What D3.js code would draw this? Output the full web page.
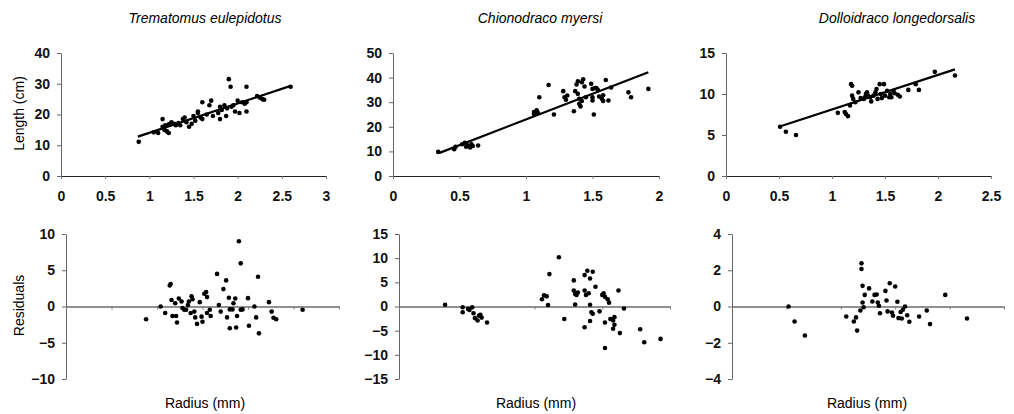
<!DOCTYPE html>
<html>
<head>
<meta charset="utf-8">
<script src="https://cdn.jsdelivr.net/npm/d3@7"></script>
<style>
  body { margin: 0; background: #fff; }
  svg { font-family: "Liberation Sans", Arial, sans-serif; }
  .tick text { font-size: 14px; font-weight: bold; fill: #111; }
</style>
</head>
<body>
<svg id="chart" width="1014" height="414"></svg>
<script>
// species names
var species = ["Trematomus eulepidotus", "Chionodraco myersi", "Dolloidraco longedorsalis"];

// length (cm) vs radius (mm)
var tremLen = [[0.88,11.1],[1.05,14.2],[1.10,14.0],[1.15,18.5],[1.15,16.0],[1.17,15.0],[1.18,16.5],[1.20,14.5],
  [1.22,14.0],[1.22,16.8],[1.25,17.5],[1.28,17.0],[1.30,16.5],[1.33,17.2],[1.35,16.5],[1.38,18.5],[1.40,19.0],
  [1.42,17.5],[1.45,16.0],[1.48,17.0],[1.50,19.5],[1.52,18.0],[1.55,20.5],[1.55,21.0],[1.58,19.0],[1.60,18.5],
  [1.60,24.0],[1.65,20.0],[1.68,23.0],[1.70,24.5],[1.72,19.5],[1.78,20.5],[1.80,22.5],[1.80,18.5],[1.82,21.5],
  [1.85,23.0],[1.87,19.5],[1.88,22.0],[1.90,31.5],[1.92,29.0],[1.93,22.5],[1.95,23.0],[1.97,21.0],[2.00,24.5],
  [2.02,20.5],[2.05,24.0],[2.08,23.5],[2.10,29.0],[2.10,21.0],[2.10,24.0],[2.22,26.0],[2.25,25.5],[2.28,25.0],
  [2.30,24.8],[2.60,29.0]];
var chionLen = [[0.34,9.8],[0.46,10.9],[0.47,11.9],[0.52,12.9],[0.54,13.5],[0.55,11.9],[0.56,12.5],[0.58,11.6],
  [0.59,12.9],[0.60,12.2],[0.64,12.4],[1.06,26.0],[1.08,26.7],[1.09,25.6],[1.06,25.2],[1.10,32.0],[1.17,37.0],
  [1.21,25.0],[1.28,34.5],[1.29,32.0],[1.31,32.7],[1.30,31.0],[1.36,26.3],[1.37,34.5],[1.38,37.2],[1.39,38.5],
  [1.39,33.4],[1.40,31.4],[1.40,29.4],[1.41,28.3],[1.42,30.5],[1.42,38.1],[1.43,39.3],[1.44,36.4],[1.45,32.0],
  [1.49,37.5],[1.50,32.0],[1.50,35.4],[1.52,35.8],[1.50,30.7],[1.51,25.0],[1.53,35.8],[1.54,35.0],[1.55,32.3],
  [1.57,31.4],[1.58,30.5],[1.58,32.8],[1.60,39.0],[1.62,30.7],[1.64,36.0],[1.77,34.0],[1.79,32.0],[1.92,35.4]];
var dolloLen = [[0.51,6.0],[0.565,5.4],[0.66,5.0],[1.055,7.7],[1.12,7.8],[1.13,7.6],[1.15,7.3],[1.17,8.6],
  [1.18,11.2],[1.19,11.0],[1.19,9.8],[1.20,9.4],[1.22,9.0],[1.25,10.2],[1.27,9.5],[1.30,9.4],[1.31,9.6],
  [1.32,10.0],[1.33,10.2],[1.34,9.8],[1.36,9.6],[1.37,9.1],[1.39,9.8],[1.41,10.2],[1.42,10.6],[1.43,9.4],
  [1.45,11.2],[1.46,10.0],[1.47,9.5],[1.49,11.2],[1.50,9.8],[1.52,10.4],[1.54,9.6],[1.55,10.0],[1.56,9.6],
  [1.58,10.4],[1.59,10.1],[1.62,9.9],[1.64,9.7],[1.72,10.5],[1.79,11.2],[1.82,10.5],[1.97,12.7],[2.16,12.25]];

// fitted lines (end points)
var tremFit = [[0.87,12.8],[2.60,29.3]];
var chionFit = [[0.35,9.4],[1.92,42.2]];
var dolloFit = [[0.50,6.0],[2.16,13.0]];

// residuals vs radius (mm)
var tremRes = [[0.88,-1.75],[1.04,0.0],[1.09,-0.9],[1.15,3.1],[1.14,2.9],[1.16,0.9],[1.17,-1.3],[1.20,0.45],
  [1.21,-1.3],[1.22,-2.2],[1.24,1.1],[1.27,0.7],[1.28,-0.2],[1.30,-0.45],[1.32,-0.45],[1.34,0.2],[1.35,0.7],
  [1.37,-0.9],[1.38,1.4],[1.39,1.0],[1.41,-0.7],[1.42,-1.5],[1.44,-2.4],[1.47,0.6],[1.49,-1.4],[1.50,-2.1],
  [1.52,1.75],[1.54,2.0],[1.55,1.3],[1.55,-0.9],[1.58,-0.45],[1.59,-1.3],[1.66,4.5],[1.68,0.2],[1.70,-0.7],
  [1.73,2.4],[1.76,3.6],[1.77,-1.5],[1.79,1.2],[1.80,-0.4],[1.80,-3.0],[1.83,-0.4],[1.84,0.45],[1.86,1.1],
  [1.87,-2.9],[1.88,-1.3],[1.90,9.0],[1.92,5.95],[1.92,-0.45],[1.94,-0.4],[2.00,1.15],[2.01,-2.65],[2.07,0.0],
  [2.09,-1.5],[2.11,4.1],[2.12,-3.7],[2.23,0.6],[2.26,-0.7],[2.28,-1.55],[2.31,-1.75],[2.60,-0.45]];
var chionRes = [[0.34,0.35],[0.47,-0.15],[0.47,-1.2],[0.51,-0.5],[0.52,-0.7],[0.54,-0.15],[0.55,-1.4],
  [0.56,-2.4],[0.58,-2.9],[0.59,-1.9],[0.60,-1.7],[0.61,-2.3],[0.65,-3.3],[1.055,1.5],[1.07,2.3],[1.09,2.1],
  [1.10,0.3],[1.11,6.7],[1.18,10.2],[1.22,-2.6],[1.29,5.4],[1.29,3.3],[1.30,2.6],[1.30,0.4],[1.31,2.4],
  [1.32,2.9],[1.37,3.3],[1.37,-4.3],[1.37,6.5],[1.38,2.4],[1.39,7.4],[1.40,2.75],[1.41,-3.0],[1.41,0.35],
  [1.41,5.8],[1.42,-1.2],[1.43,-1.5],[1.43,7.2],[1.45,4.1],[1.48,-1.0],[1.50,2.4],[1.51,2.75],[1.52,2.0],
  [1.52,-3.3],[1.52,-8.6],[1.54,1.5],[1.55,0.8],[1.56,-2.6],[1.58,-2.9],[1.59,-2.2],[1.59,-3.8],[1.58,-4.6],
  [1.62,3.3],[1.63,-5.5],[1.66,-0.4],[1.78,-4.7],[1.81,-7.4],[1.93,-6.7]];
var dolloRes = [[0.52,0.0],[0.575,-0.83],[0.67,-1.6],[1.05,-0.55],[1.12,-0.83],[1.14,-0.6],[1.15,-1.33],
  [1.18,-0.22],[1.19,2.38],[1.19,2.07],[1.20,1.14],[1.20,0.22],[1.21,-0.04],[1.22,0.64],[1.26,1.0],[1.29,0.28],
  [1.31,0.64],[1.33,0.66],[1.34,0.22],[1.35,0.04],[1.36,-0.37],[1.41,0.86],[1.42,0.33],[1.43,-0.27],
  [1.45,1.28],[1.47,-0.33],[1.48,-0.51],[1.50,1.1],[1.52,0.26],[1.53,-0.64],[1.55,-0.3],[1.56,-0.66],
  [1.57,-0.18],[1.59,0.0],[1.61,-0.48],[1.63,-0.84],[1.72,-0.55],[1.79,-0.22],[1.82,-0.97],[1.96,0.64],
  [2.16,-0.66]];

// tick values
var tremXTicks = [0, 0.5, 1, 1.5, 2, 2.5, 3];
var chionXTicks = [0, 0.5, 1, 1.5, 2];
var dolloXTicks = [0, 0.5, 1, 1.5, 2, 2.5];
var tremLenTicks = [0, 10, 20, 30, 40];
var chionLenTicks = [0, 10, 20, 30, 40, 50];
var dolloLenTicks = [0, 5, 10, 15];
var tremResTicks = [-10, -5, 0, 5, 10];
var chionResTicks = [-15, -10, -5, 0, 5, 10, 15];
var dolloResTicks = [-4, -2, 0, 2, 4];

var svg = d3.select("#chart");

var panels = [
  {pts: tremLen,  fit: tremFit,  xd: [0,3],   yd: [0,40],   xt: tremXTicks,  yt: tremLenTicks,  x0: 61,  x1: 326,  top: true,  title: species[0], tx: 205, ylab: "Length (cm)"},
  {pts: chionLen, fit: chionFit, xd: [0,2],   yd: [0,50],   xt: chionXTicks, yt: chionLenTicks, x0: 393, x1: 659,  top: true,  title: species[1], tx: 540},
  {pts: dolloLen, fit: dolloFit, xd: [0,2.5], yd: [0,15],   xt: dolloXTicks, yt: dolloLenTicks, x0: 726, x1: 991,  top: true,  title: species[2], tx: 897},
  {pts: tremRes,  xd: [0,3],   yd: [-10,10], xt: tremXTicks,  yt: tremResTicks,  x0: 66,  x1: 339,  top: false, lx: 205, ylab: "Residuals"},
  {pts: chionRes, xd: [0,2],   yd: [-15,15], xt: chionXTicks, yt: chionResTicks, x0: 399, x1: 670,  top: false, lx: 536},
  {pts: dolloRes, xd: [0,2.5], yd: [-4,4],   xt: dolloXTicks, yt: dolloResTicks, x0: 732, x1: 1004, top: false, lx: 867}
];

panels.forEach(function(p) {
  var yRange = p.top ? [176, 53] : [379, 234];
  var x = d3.scaleLinear().domain(p.xd).range([p.x0, p.x1]);
  var y = d3.scaleLinear().domain(p.yd).range(yRange);
  var g = svg.append("g");

  // y axis
  var ya = g.append("g")
      .attr("transform", "translate(" + p.x0 + ",0)")
      .call(d3.axisLeft(y).tickValues(p.yt).tickSize(4).tickSizeOuter(0).tickPadding(7));
  ya.select(".domain").attr("stroke", "#666");
  ya.selectAll(".tick line").attr("stroke", "#666");

  // x axis (at zero)
  var xa = g.append("g")
      .attr("transform", "translate(0," + y(0) + ")")
      .call(d3.axisBottom(x).tickValues(p.xt).tickSize(3).tickSizeOuter(0).tickPadding(12)
        .tickFormat(p.top ? d3.format("") : function() { return ""; }));
  xa.select(".domain").attr("stroke", "#222");
  xa.selectAll(".tick line").attr("stroke", "#777");
  xa.selectAll(".tick text").attr("font-family", null).attr("font-size", null);
  ya.selectAll(".tick text").attr("font-family", null).attr("font-size", null);

  // fitted line
  if (p.fit) {
    g.append("line")
      .attr("x1", x(p.fit[0][0])).attr("y1", y(p.fit[0][1]))
      .attr("x2", x(p.fit[1][0])).attr("y2", y(p.fit[1][1]))
      .attr("stroke", "#000").attr("stroke-width", 2.2);
  }

  // points
  g.selectAll("circle").data(p.pts).enter().append("circle")
    .attr("cx", function(d) { return x(d[0]); })
    .attr("cy", function(d) { return y(d[1]); })
    .attr("r", 2.3)
    .attr("fill", "#000");

  if (p.title) {
    svg.append("text").text(p.title)
      .attr("x", p.tx).attr("y", 23)
      .attr("text-anchor", "middle")
      .style("font-style", "italic")
      .style("font-size", "14px");
  }
  if (p.lx) {
    svg.append("text").text("Radius (mm)")
      .attr("x", p.lx).attr("y", 408)
      .attr("text-anchor", "middle")
      .style("font-size", "14px");
  }
  if (p.ylab) {
    var cy = (yRange[0] + yRange[1]) / 2 + (p.top ? -1 : -1);
    svg.append("text").text(p.ylab)
      .attr("transform", "translate(24," + cy + ") rotate(-90)")
      .attr("text-anchor", "middle")
      .style("font-size", "14px");
  }
});
</script>
</body>
</html>
